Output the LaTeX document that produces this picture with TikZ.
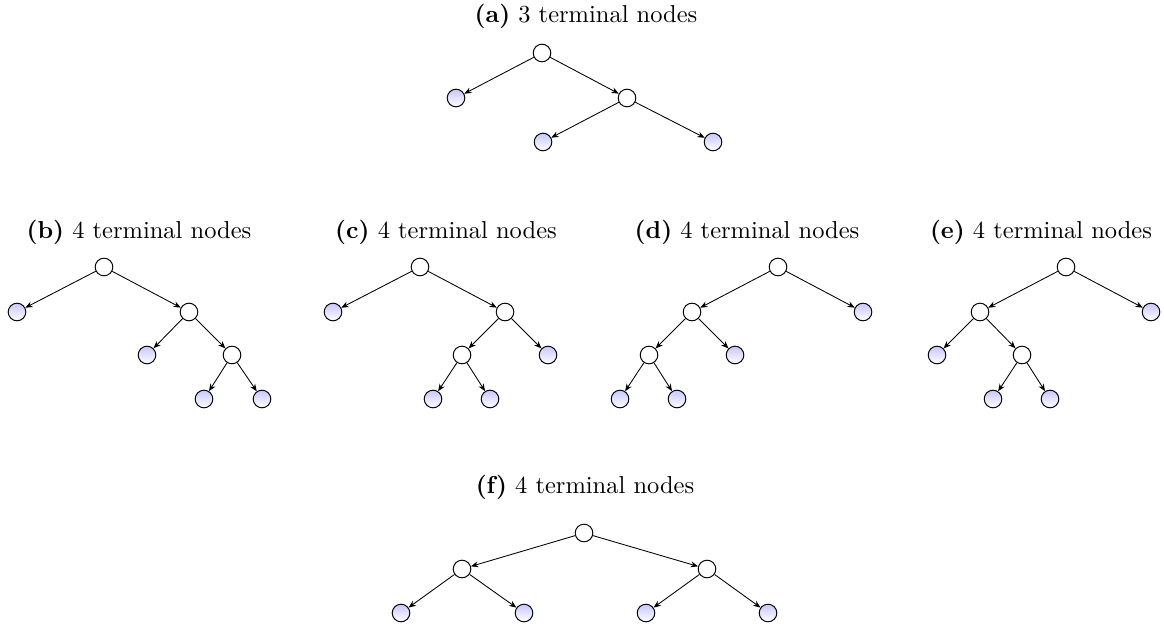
\documentclass[tikz,border=0pt]{standalone}
\usepackage{amsmath,amssymb}
\usepackage{tikz}
\usetikzlibrary{arrows.meta}

\tikzset{
  inner/.style = {shape=circle, draw, fill=white, minimum size=7.2pt, inner sep=0pt, line width=0.4pt},
  leaf/.style  = {shape=circle, draw, top color=blue!22!white, bottom color=white, minimum size=7.2pt, inner sep=0pt, line width=0.4pt},
  edge/.style  = {-{Stealth[length=3pt,width=2.4pt]}, line width=0.35pt},
  caption/.style = {inner sep=0pt}
}

\begin{document}
\begin{tikzpicture}[x=0.4086pt, y=-0.4086pt]
  \useasboundingbox (0,0) rectangle (1164,628);

  % (a)
  \node[caption] (capa) at (586,16) {\textbf{(a)} 3 terminal nodes};
  \node[inner] (a0) at (542,53) {};
  \node[leaf]  (a1) at (456,98) {};
  \node[inner] (a2) at (627,98) {};
  \node[leaf]  (a3) at (543,142) {};
  \node[leaf]  (a4) at (713,142) {};
  \foreach \s/\t in {a0/a1, a0/a2, a2/a3, a2/a4}
    \draw[edge] (\s) -- (\t);

  % (b)
  \node[caption] (capb) at (139,232) {\textbf{(b)} 4 terminal nodes};
  \node[inner] (b0) at (104,267) {};
  \node[leaf]  (b1) at (17,312) {};
  \node[inner] (b2) at (189,312) {};
  \node[leaf]  (b3) at (147,355) {};
  \node[inner] (b4) at (232,355) {};
  \node[leaf]  (b5) at (204,399) {};
  \node[leaf]  (b6) at (262,399) {};
  \foreach \s/\t in {b0/b1, b0/b2, b2/b3, b2/b4, b4/b5, b4/b6}
    \draw[edge] (\s) -- (\t);

  % (c)
  \node[caption] (capc) at (446,232) {\textbf{(c)} 4 terminal nodes};
  \node[inner] (c0) at (420,267) {};
  \node[leaf]  (c1) at (333,312) {};
  \node[inner] (c2) at (505,312) {};
  \node[inner] (c3) at (462,355) {};
  \node[leaf]  (c4) at (548,355) {};
  \node[leaf]  (c5) at (433,399) {};
  \node[leaf]  (c6) at (490,399) {};
  \foreach \s/\t in {c0/c1, c0/c2, c2/c3, c2/c4, c3/c5, c3/c6}
    \draw[edge] (\s) -- (\t);

  % (d)
  \node[caption] (capd) at (747,232) {\textbf{(d)} 4 terminal nodes};
  \node[inner] (d0) at (778,267) {};
  \node[inner] (d1) at (692,312) {};
  \node[leaf]  (d2) at (863,312) {};
  \node[inner] (d3) at (649,355) {};
  \node[leaf]  (d4) at (735,355) {};
  \node[leaf]  (d5) at (620,399) {};
  \node[leaf]  (d6) at (677,399) {};
  \foreach \s/\t in {d0/d1, d0/d2, d1/d3, d1/d4, d3/d5, d3/d6}
    \draw[edge] (\s) -- (\t);

  % (e)
  \node[caption] (cape) at (1041,232) {\textbf{(e)} 4 terminal nodes};
  \node[inner] (e0) at (1066,267) {};
  \node[inner] (e1) at (980,312) {};
  \node[leaf]  (e2) at (1151,312) {};
  \node[leaf]  (e3) at (937,355) {};
  \node[inner] (e4) at (1022,355) {};
  \node[leaf]  (e5) at (993,399) {};
  \node[leaf]  (e6) at (1050,399) {};
  \foreach \s/\t in {e0/e1, e0/e2, e1/e3, e1/e4, e4/e5, e4/e6}
    \draw[edge] (\s) -- (\t);

  % (f)
  \node[caption] (capf) at (585,487) {\textbf{(f)} 4 terminal nodes};
  \node[inner] (f0) at (584,533) {};
  \node[inner] (f1) at (462,569) {};
  \node[inner] (f2) at (707,569) {};
  \node[leaf]  (f3) at (401,613) {};
  \node[leaf]  (f4) at (524,613) {};
  \node[leaf]  (f5) at (646,613) {};
  \node[leaf]  (f6) at (768,613) {};
  \foreach \s/\t in {f0/f1, f0/f2, f1/f3, f1/f4, f2/f5, f2/f6}
    \draw[edge] (\s) -- (\t);
\end{tikzpicture}
\end{document}
